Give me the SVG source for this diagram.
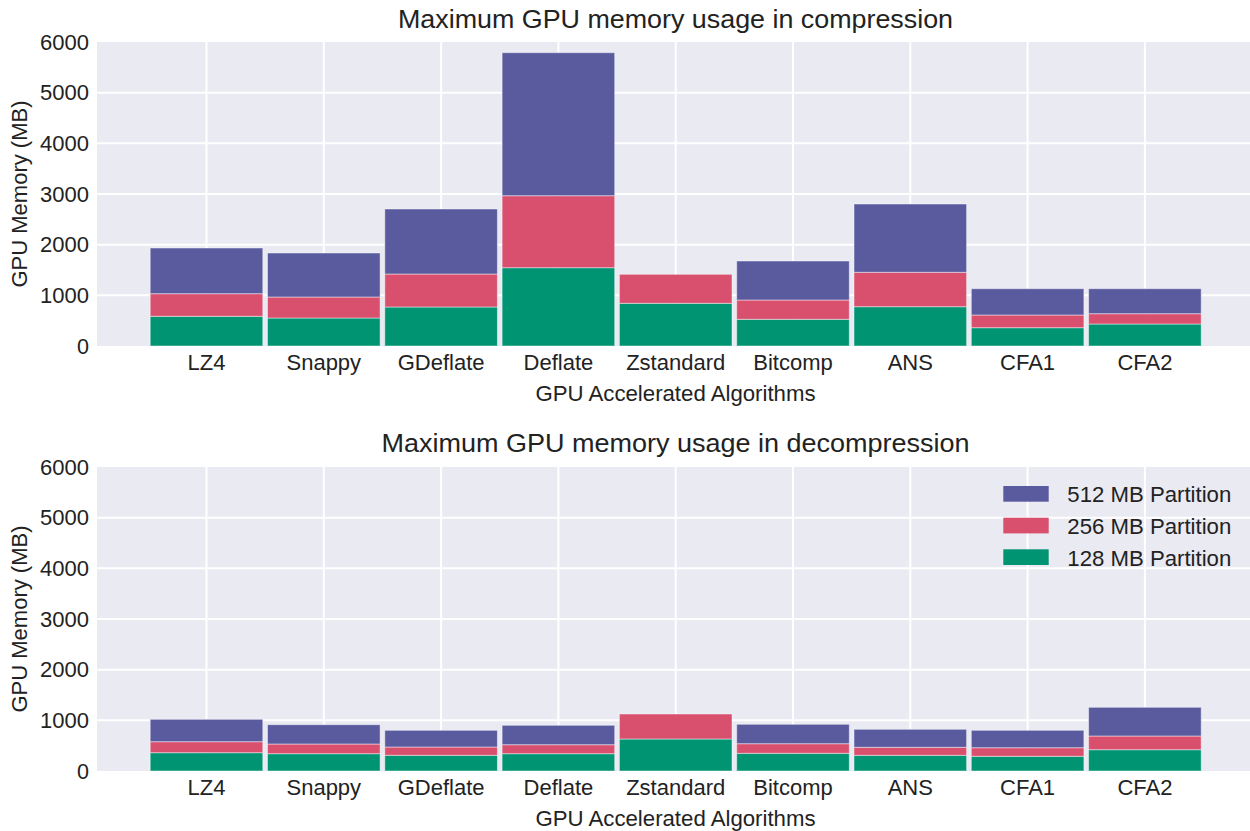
<svg xmlns="http://www.w3.org/2000/svg" width="1250" height="831" viewBox="0 0 1250 831">
  <style>
    text { font-family: "Liberation Sans", Arial, sans-serif; fill: #222222; }
    .plotbg { fill: #eaeaf2; }
    .grid line { stroke: #ffffff; stroke-width: 2; }
    .tick { font-size: 22px; text-anchor: end; }
    .xlab { font-size: 22px; text-anchor: middle; }
    .title { font-size: 25px; text-anchor: middle; }
    .axtitle { font-size: 22px; text-anchor: middle; }
    .ylab { font-size: 22px; text-anchor: middle; }
    .legtxt { font-size: 22px; }
    .p512 { fill: #5a5b9f; }
    .p256 { fill: #d9506f; }
    .p128 { fill: #009473; }
    .bars rect { stroke: #ffffff; stroke-opacity: 0.45; stroke-width: 1; }
  </style>

  <rect width="1250" height="831" fill="#ffffff"/>

  <!-- ===== Top panel: compression ===== -->
  <g id="panel-compression">
    <rect class="plotbg" x="97" y="42" width="1153" height="304"/>
    <g class="grid">
      <line x1="97" x2="1250" y1="295.3" y2="295.3"/>
      <line x1="97" x2="1250" y1="244.7" y2="244.7"/>
      <line x1="97" x2="1250" y1="194" y2="194"/>
      <line x1="97" x2="1250" y1="143.3" y2="143.3"/>
      <line x1="97" x2="1250" y1="92.7" y2="92.7"/>
      <line x1="206.5" x2="206.5" y1="42" y2="346"/>
      <line x1="323.8" x2="323.8" y1="42" y2="346"/>
      <line x1="441.1" x2="441.1" y1="42" y2="346"/>
      <line x1="558.4" x2="558.4" y1="42" y2="346"/>
      <line x1="675.7" x2="675.7" y1="42" y2="346"/>
      <line x1="793" x2="793" y1="42" y2="346"/>
      <line x1="910.3" x2="910.3" y1="42" y2="346"/>
      <line x1="1027.6" x2="1027.6" y1="42" y2="346"/>
      <line x1="1144.9" x2="1144.9" y1="42" y2="346"/>
    </g>

    <g class="bars">
      <g id="c-lz4">
        <rect class="p128" x="150.2" y="316.3" width="112.6" height="29.7"/>
        <rect class="p256" x="150.2" y="293.7" width="112.6" height="22.6"/>
        <rect class="p512" x="150.2" y="248" width="112.6" height="45.7"/>
      </g>
      <g id="c-snappy">
        <rect class="p128" x="267.5" y="318" width="112.6" height="28"/>
        <rect class="p256" x="267.5" y="297" width="112.6" height="21"/>
        <rect class="p512" x="267.5" y="253" width="112.6" height="44"/>
      </g>
      <g id="c-gdeflate">
        <rect class="p128" x="384.8" y="307" width="112.6" height="39"/>
        <rect class="p256" x="384.8" y="274" width="112.6" height="33"/>
        <rect class="p512" x="384.8" y="209" width="112.6" height="65"/>
      </g>
      <g id="c-deflate">
        <rect class="p128" x="502.1" y="267.7" width="112.6" height="78.3"/>
        <rect class="p256" x="502.1" y="195.7" width="112.6" height="72"/>
        <rect class="p512" x="502.1" y="52.7" width="112.6" height="143"/>
      </g>
      <g id="c-zstandard">
        <rect class="p128" x="619.4" y="303.3" width="112.6" height="42.7"/>
        <rect class="p256" x="619.4" y="274.3" width="112.6" height="29"/>
      </g>
      <g id="c-bitcomp">
        <rect class="p128" x="736.7" y="319.3" width="112.6" height="26.7"/>
        <rect class="p256" x="736.7" y="300" width="112.6" height="19.3"/>
        <rect class="p512" x="736.7" y="261" width="112.6" height="39"/>
      </g>
      <g id="c-ans">
        <rect class="p128" x="854" y="306.7" width="112.6" height="39.3"/>
        <rect class="p256" x="854" y="272.3" width="112.6" height="34.4"/>
        <rect class="p512" x="854" y="204" width="112.6" height="68.3"/>
      </g>
      <g id="c-cfa1">
        <rect class="p128" x="971.3" y="327.7" width="112.6" height="18.3"/>
        <rect class="p256" x="971.3" y="315" width="112.6" height="12.7"/>
        <rect class="p512" x="971.3" y="288.7" width="112.6" height="26.3"/>
      </g>
      <g id="c-cfa2">
        <rect class="p128" x="1088.6" y="324" width="112.6" height="22"/>
        <rect class="p256" x="1088.6" y="313.7" width="112.6" height="10.3"/>
        <rect class="p512" x="1088.6" y="288.7" width="112.6" height="25"/>
      </g>
    </g>

    <g class="yticks">
      <text class="tick" x="89" y="353.5" textLength="12" lengthAdjust="spacingAndGlyphs">0</text>
      <text class="tick" x="89" y="302.8" textLength="49" lengthAdjust="spacingAndGlyphs">1000</text>
      <text class="tick" x="89" y="252.2" textLength="49" lengthAdjust="spacingAndGlyphs">2000</text>
      <text class="tick" x="89" y="201.5" textLength="49" lengthAdjust="spacingAndGlyphs">3000</text>
      <text class="tick" x="89" y="150.8" textLength="49" lengthAdjust="spacingAndGlyphs">4000</text>
      <text class="tick" x="89" y="100.2" textLength="49" lengthAdjust="spacingAndGlyphs">5000</text>
      <text class="tick" x="89" y="49.5" textLength="49" lengthAdjust="spacingAndGlyphs">6000</text>
    </g>
    <g class="xticks">
      <text class="xlab" x="206.5" y="369.5">LZ4</text>
      <text class="xlab" x="323.8" y="369.5">Snappy</text>
      <text class="xlab" x="441.1" y="369.5">GDeflate</text>
      <text class="xlab" x="558.4" y="369.5">Deflate</text>
      <text class="xlab" x="675.7" y="369.5">Zstandard</text>
      <text class="xlab" x="793" y="369.5">Bitcomp</text>
      <text class="xlab" x="910.3" y="369.5">ANS</text>
      <text class="xlab" x="1027.6" y="369.5">CFA1</text>
      <text class="xlab" x="1144.9" y="369.5">CFA2</text>
    </g>
    <text class="title" x="675.5" y="28" textLength="555" lengthAdjust="spacingAndGlyphs">Maximum GPU memory usage in compression</text>
    <text class="axtitle" x="675.5" y="401" textLength="280" lengthAdjust="spacingAndGlyphs">GPU Accelerated Algorithms</text>
    <text class="ylab" transform="translate(27,194) rotate(-90)" x="0" y="0">GPU Memory (MB)</text>
  </g>

  <!-- ===== Bottom panel: decompression ===== -->
  <g id="panel-decompression">
    <rect class="plotbg" x="97" y="467" width="1153" height="304"/>
    <g class="grid">
      <line x1="97" x2="1250" y1="720.3" y2="720.3"/>
      <line x1="97" x2="1250" y1="669.7" y2="669.7"/>
      <line x1="97" x2="1250" y1="619" y2="619"/>
      <line x1="97" x2="1250" y1="568.3" y2="568.3"/>
      <line x1="97" x2="1250" y1="517.7" y2="517.7"/>
      <line x1="206.5" x2="206.5" y1="467" y2="771"/>
      <line x1="323.8" x2="323.8" y1="467" y2="771"/>
      <line x1="441.1" x2="441.1" y1="467" y2="771"/>
      <line x1="558.4" x2="558.4" y1="467" y2="771"/>
      <line x1="675.7" x2="675.7" y1="467" y2="771"/>
      <line x1="793" x2="793" y1="467" y2="771"/>
      <line x1="910.3" x2="910.3" y1="467" y2="771"/>
      <line x1="1027.6" x2="1027.6" y1="467" y2="771"/>
      <line x1="1144.9" x2="1144.9" y1="467" y2="771"/>
    </g>

    <g class="bars">
      <g id="d-lz4">
        <rect class="p128" x="150.2" y="752.7" width="112.6" height="18.3"/>
        <rect class="p256" x="150.2" y="741.7" width="112.6" height="11"/>
        <rect class="p512" x="150.2" y="719.3" width="112.6" height="22.4"/>
      </g>
      <g id="d-snappy">
        <rect class="p128" x="267.5" y="753.7" width="112.6" height="17.3"/>
        <rect class="p256" x="267.5" y="744" width="112.6" height="9.7"/>
        <rect class="p512" x="267.5" y="724.7" width="112.6" height="19.3"/>
      </g>
      <g id="d-gdeflate">
        <rect class="p128" x="384.8" y="755.3" width="112.6" height="15.7"/>
        <rect class="p256" x="384.8" y="747" width="112.6" height="8.3"/>
        <rect class="p512" x="384.8" y="730.3" width="112.6" height="16.7"/>
      </g>
      <g id="d-deflate">
        <rect class="p128" x="502.1" y="753.7" width="112.6" height="17.3"/>
        <rect class="p256" x="502.1" y="744.7" width="112.6" height="9"/>
        <rect class="p512" x="502.1" y="725.3" width="112.6" height="19.4"/>
      </g>
      <g id="d-zstandard">
        <rect class="p128" x="619.4" y="739" width="112.6" height="32"/>
        <rect class="p256" x="619.4" y="714" width="112.6" height="25"/>
      </g>
      <g id="d-bitcomp">
        <rect class="p128" x="736.7" y="753.3" width="112.6" height="17.7"/>
        <rect class="p256" x="736.7" y="743.7" width="112.6" height="9.6"/>
        <rect class="p512" x="736.7" y="724.3" width="112.6" height="19.4"/>
      </g>
      <g id="d-ans">
        <rect class="p128" x="854" y="755.3" width="112.6" height="15.7"/>
        <rect class="p256" x="854" y="747.3" width="112.6" height="8"/>
        <rect class="p512" x="854" y="729.3" width="112.6" height="18"/>
      </g>
      <g id="d-cfa1">
        <rect class="p128" x="971.3" y="756.3" width="112.6" height="14.7"/>
        <rect class="p256" x="971.3" y="747.7" width="112.6" height="8.6"/>
        <rect class="p512" x="971.3" y="730.3" width="112.6" height="17.4"/>
      </g>
      <g id="d-cfa2">
        <rect class="p128" x="1088.6" y="749.7" width="112.6" height="21.3"/>
        <rect class="p256" x="1088.6" y="736" width="112.6" height="13.7"/>
        <rect class="p512" x="1088.6" y="707.3" width="112.6" height="28.7"/>
      </g>
    </g>

    <g class="yticks">
      <text class="tick" x="89" y="778.5" textLength="12" lengthAdjust="spacingAndGlyphs">0</text>
      <text class="tick" x="89" y="727.8" textLength="49" lengthAdjust="spacingAndGlyphs">1000</text>
      <text class="tick" x="89" y="677.2" textLength="49" lengthAdjust="spacingAndGlyphs">2000</text>
      <text class="tick" x="89" y="626.5" textLength="49" lengthAdjust="spacingAndGlyphs">3000</text>
      <text class="tick" x="89" y="575.8" textLength="49" lengthAdjust="spacingAndGlyphs">4000</text>
      <text class="tick" x="89" y="525.2" textLength="49" lengthAdjust="spacingAndGlyphs">5000</text>
      <text class="tick" x="89" y="474.5" textLength="49" lengthAdjust="spacingAndGlyphs">6000</text>
    </g>
    <g class="xticks">
      <text class="xlab" x="206.5" y="794.5">LZ4</text>
      <text class="xlab" x="323.8" y="794.5">Snappy</text>
      <text class="xlab" x="441.1" y="794.5">GDeflate</text>
      <text class="xlab" x="558.4" y="794.5">Deflate</text>
      <text class="xlab" x="675.7" y="794.5">Zstandard</text>
      <text class="xlab" x="793" y="794.5">Bitcomp</text>
      <text class="xlab" x="910.3" y="794.5">ANS</text>
      <text class="xlab" x="1027.6" y="794.5">CFA1</text>
      <text class="xlab" x="1144.9" y="794.5">CFA2</text>
    </g>
    <text class="title" x="675.5" y="452" textLength="588" lengthAdjust="spacingAndGlyphs">Maximum GPU memory usage in decompression</text>
    <text class="axtitle" x="675.5" y="826" textLength="280" lengthAdjust="spacingAndGlyphs">GPU Accelerated Algorithms</text>
    <text class="ylab" transform="translate(27,619) rotate(-90)" x="0" y="0">GPU Memory (MB)</text>

    <g id="legend">
      <rect class="p512" x="1003.3" y="486" width="45.4" height="15.7"/>
      <rect class="p256" x="1003.3" y="517.7" width="45.4" height="15.7"/>
      <rect class="p128" x="1003.3" y="549.3" width="45.4" height="15.7"/>
      <text class="legtxt" x="1067.3" y="502" textLength="164" lengthAdjust="spacingAndGlyphs">512 MB Partition</text>
      <text class="legtxt" x="1067.3" y="533.8" textLength="164" lengthAdjust="spacingAndGlyphs">256 MB Partition</text>
      <text class="legtxt" x="1067.3" y="565.5" textLength="164" lengthAdjust="spacingAndGlyphs">128 MB Partition</text>
    </g>
  </g>
</svg>
